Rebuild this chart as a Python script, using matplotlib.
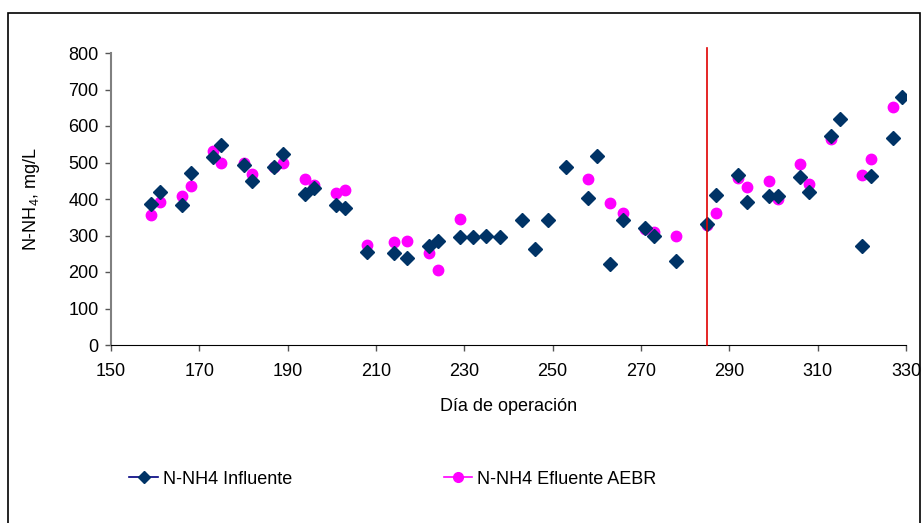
import matplotlib
matplotlib.use("Agg")
import matplotlib.pyplot as plt
from matplotlib.lines import Line2D
from matplotlib.patches import Rectangle

plt.rcParams['font.family'] = ['Liberation Sans', 'DejaVu Sans']
plt.rcParams['mathtext.default'] = 'regular'

# influent ammonium (day, mg/L)
dias_inf = [159, 161, 166, 168, 173, 175, 180, 182, 187, 189, 194, 196, 201, 203,
            208, 214, 217, 222, 224, 229, 232, 235, 238, 243, 246, 249, 253, 258,
            260, 263, 266, 271, 273, 278, 285, 287, 292, 294, 299, 301, 306, 308,
            313, 315, 320, 322, 327, 329]
nh4_inf = [387, 420, 383, 471, 514, 547, 494, 450, 488, 523, 414, 430, 383, 375,
           255, 251, 239, 271, 284, 295, 295, 299, 295, 343, 264, 343, 488, 404,
           519, 223, 342, 320, 299, 231, 332, 411, 466, 391, 407, 408, 459, 419,
           573, 619, 271, 463, 567, 679]

# AEBR effluent ammonium (day, mg/L)
dias_efl = [159, 161, 166, 168, 173, 175, 180, 182, 187, 189, 194, 196, 201, 203,
            208, 214, 217, 222, 224, 229, 258, 263, 266, 271, 273, 278, 285, 287,
            292, 294, 299, 301, 306, 308, 313, 320, 322, 327]
nh4_efl = [357, 393, 408, 436, 532, 500, 500, 469, 488, 500, 456, 437, 417, 425,
           273, 282, 285, 253, 205, 345, 456, 389, 362, 317, 310, 298, 329, 361,
           458, 433, 449, 401, 497, 441, 564, 465, 509, 653]

dia_cambio = 285
xticks = list(range(150, 331, 20))
yticks = list(range(0, 801, 100))

fs = 13

fig = plt.figure(figsize=(9.22, 5.23), dpi=100)
ax = fig.add_axes([111 / 922, 1 - 345 / 523, 795 / 922, 292 / 523])

ax.plot(dias_inf, nh4_inf, linestyle='none', marker='D', markersize=6.8,
        color='#003366', zorder=3)
ax.plot(dias_efl, nh4_efl, linestyle='none', marker='o', markersize=7.5,
        color='#ff00ff', zorder=2)
ax.plot([dia_cambio, dia_cambio], [0, 813], color='#e00000', lw=1.2,
        clip_on=False, zorder=4)

ax.set_xlim(150, 330)
ax.set_ylim(0, 800)
ax.set_xticks(xticks)
ax.set_yticks(yticks)
ax.tick_params(direction='out', length=4, width=1, labelsize=fs,
               color='#555555')
ax.tick_params(axis='x', pad=9)
ax.tick_params(axis='y', pad=5)
for s in ['top', 'right']:
    ax.spines[s].set_visible(False)
ax.spines['left'].set_color('#808080')
ax.spines['left'].set_linewidth(1.5)
ax.spines['bottom'].set_color('black')

ax.set_xlabel('Día de operación', fontsize=fs, labelpad=13)
ax.set_ylabel('N-NH$_4$, mg/L', fontsize=fs, labelpad=19)

handles = [
    Line2D([], [], color='#000080', marker='D', markersize=6,
           markerfacecolor='#003366', markeredgecolor='#003366', lw=1.2),
    Line2D([], [], color='#ff00ff', marker='o', markersize=7, lw=1.2),
]
fig.legend(handles, ['N-NH4 Influente', 'N-NH4 Efluente AEBR'],
           loc='center left', bbox_to_anchor=(113 / 922, 1 - 479 / 523),
           ncol=2, frameon=False, fontsize=fs, handlelength=1.6,
           handletextpad=0.25, columnspacing=8.4)

# chart border
fig.patches.append(Rectangle((8 / 922, -0.02), 912 / 922, 1.02 - 13 / 523,
                             transform=fig.transFigure, fill=False,
                             edgecolor='black', lw=1.2))

fig.savefig('out.png', dpi=100)
